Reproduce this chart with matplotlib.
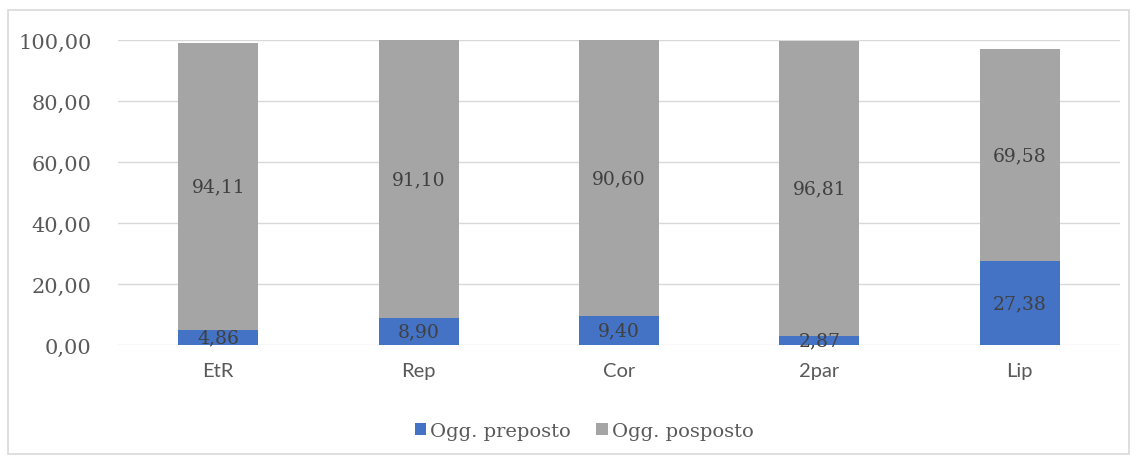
import matplotlib.pyplot as plt
from matplotlib.patches import Rectangle

categorie = ["EtR", "Rep", "Cor", "2par", "Lip"]
preposto = [4.86, 8.90, 9.40, 2.87, 27.38]
posposto = [94.11, 91.10, 90.60, 96.81, 69.58]
yticks = [0, 20, 40, 60, 80, 100]

blu = "#4472C4"
grigio = "#A5A5A5"
serif = "DejaVu Serif"
sans = "Lato"

fig = plt.figure(figsize=(11.39, 4.6), dpi=100)
fig.patches.append(Rectangle((8 / 1139, 5 / 460), 1121 / 1139, 444 / 460,
                             transform=fig.transFigure, fill=False,
                             edgecolor="#D9D9D9", linewidth=1.2))
ax = fig.add_axes([118 / 1139, 114 / 460, 1002 / 1139, 305 / 460])

x = range(len(categorie))
b1 = ax.bar(x, preposto, width=0.4, color=blu, label="Ogg. preposto", zorder=3)
b2 = ax.bar(x, posposto, width=0.4, bottom=preposto, color=grigio,
            label="Ogg. posposto", zorder=3)

for rect, v in zip(b1, preposto):
    ax.text(rect.get_x() + rect.get_width() / 2, v / 2, f"{v:.2f}".replace(".", ","),
            ha="center", va="center", fontsize=13.5, family=serif,
            color="#404040", zorder=4)
for rect, base, v in zip(b2, preposto, posposto):
    ax.text(rect.get_x() + rect.get_width() / 2, base + v / 2,
            f"{v:.2f}".replace(".", ","), ha="center", va="center",
            fontsize=13.5, family=serif, color="#404040", zorder=4)

ax.set_xlim(-0.5, len(categorie) - 0.5)
ax.set_ylim(0, 100)
ax.set_yticks(yticks)
ax.set_yticklabels([f"{t:.2f}".replace(".", ",") for t in yticks],
                   family=serif, fontsize=15, color="#595959")
ax.set_xticks(list(x))
ax.set_xticklabels(categorie, family=sans, fontsize=14.5, color="#595959")
ax.tick_params(axis="both", length=0)
ax.tick_params(axis="y", pad=19)
ax.tick_params(axis="x", pad=12)
ax.grid(axis="y", color="#D9D9D9", linewidth=1, zorder=0)
for s in ax.spines.values():
    s.set_visible(False)

leg = fig.legend(loc="center", bbox_to_anchor=(584 / 1139, 1 - 432 / 460),
                 ncol=2, frameon=False, handlelength=0.6, handleheight=0.6,
                 handletextpad=0.2, columnspacing=1.3,
                 prop={"family": serif, "size": 14})
for t in leg.get_texts():
    t.set_color("#595959")

fig.savefig("out.png", dpi=100)
